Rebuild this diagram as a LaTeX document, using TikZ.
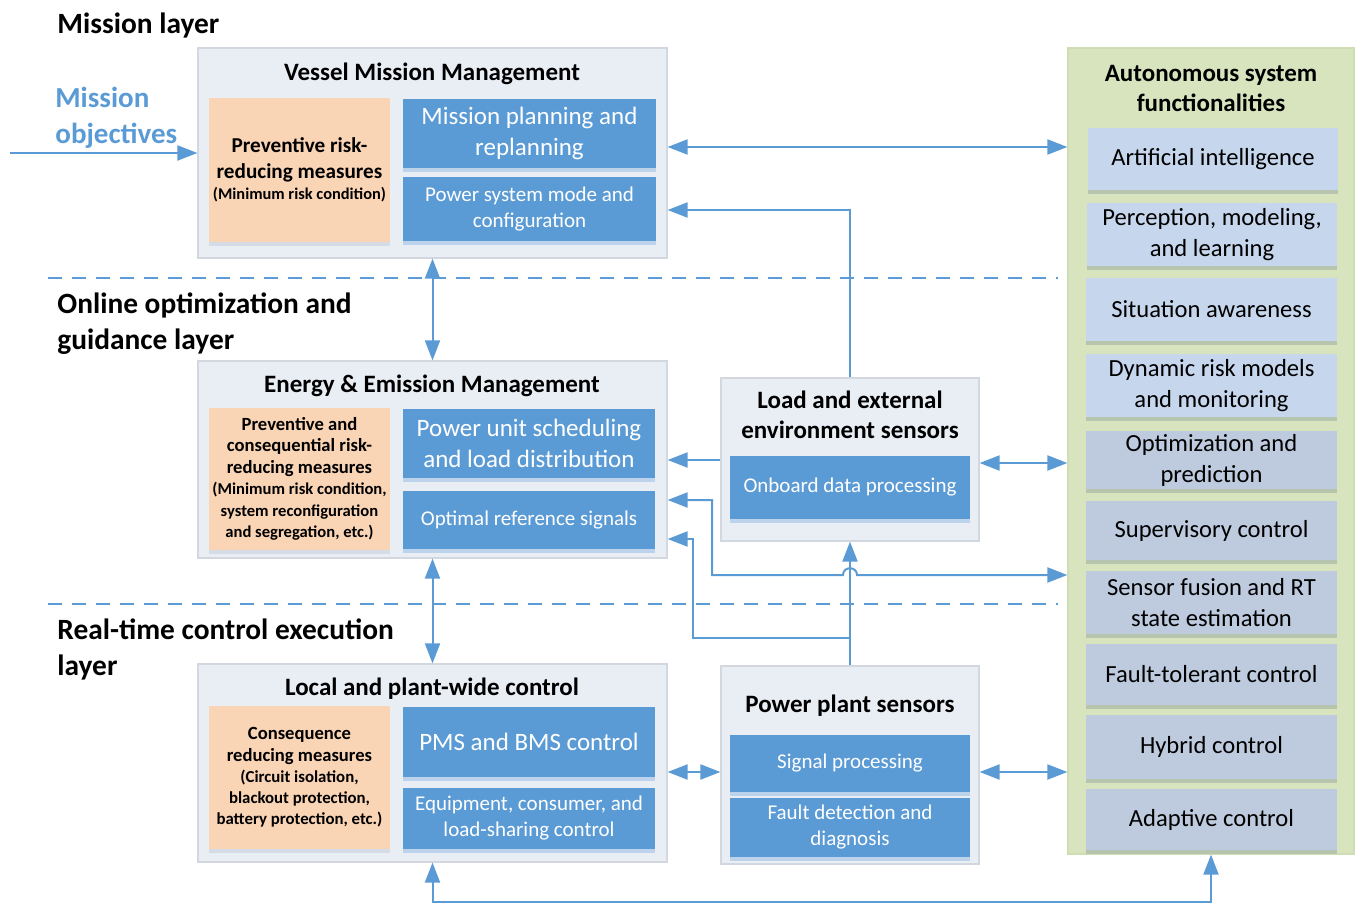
\documentclass[tikz,border=0pt]{standalone}
\usepackage{fontspec}
\setmainfont{Carlito}
\usetikzlibrary{arrows.meta,shadows}
\definecolor{lineblue}{HTML}{5B9BD5}
\definecolor{boxblue}{HTML}{5B9BD5}
\definecolor{boxshadow}{HTML}{BDD3EC}
\definecolor{outerfill}{HTML}{E9EDF4}
\definecolor{outerline}{HTML}{D3D8E0}
\definecolor{orangefill}{HTML}{F9D4B5}
\definecolor{orangeshadow}{HTML}{D6DCE6}
\definecolor{greenfill}{HTML}{D7E4BD}
\definecolor{greenline}{HTML}{CFDDB3}
\definecolor{funcA}{HTML}{C6D6EC}
\definecolor{funcB}{HTML}{BECBDF}
\definecolor{funcshadow}{HTML}{B7C5AE}
\newcommand\myfs[2]{\fontsize{#1}{#2}\selectfont}
% \bx{name}{style}{x1}{y1}{x2}{y2}{text}
\newcommand\bx[7]{\node[#2, minimum width={(#5-#3)*0.5pt}, minimum height={(#6-#4)*0.5pt}] (#1) at ({(#3+#5)/2},{(#4+#6)/2}) {#7};}
\tikzset{
  outer/.style={draw=outerline, fill=outerfill, line width=0.6pt, inner sep=0pt},
  orangebox/.style={fill=orangefill, inner sep=0pt, align=center,
    general shadow={fill=orangeshadow, shadow yshift=-2pt}},
  bluebox/.style={fill=boxblue, text=white, inner sep=0pt, align=center,
    general shadow={fill=boxshadow, shadow yshift=-2pt}},
  funcbox/.style={fill=#1, inner sep=0pt, align=center, font=\myfs{12.3}{15.5},
    general shadow={fill=funcshadow, shadow yshift=-2pt}},
  greenbox/.style={fill=greenfill, draw=greenline, line width=0.6pt, inner sep=0pt},
  ttl/.style={font=\bfseries\myfs{12.5}{15}, align=center, inner sep=0pt},
  layer/.style={font=\bfseries\myfs{14.7}{18}, align=left, anchor=west, inner sep=0pt},
  big/.style={font=\myfs{12.5}{15.5}},
  small/.style={font=\myfs{10.5}{13}},
  conn/.style={draw=lineblue, line width=1pt},
  arr/.style={conn, -{Triangle[length=10pt,width=7.5pt]}},
  dbl/.style={conn, {Triangle[length=10pt,width=7.5pt]}-{Triangle[length=10pt,width=7.5pt]}},
  sep/.style={draw=lineblue, line width=1pt, dash pattern=on 7pt off 5pt},
}
\begin{document}
\begin{tikzpicture}[x=0.5pt,y=-0.5pt]
\useasboundingbox (0,0) rectangle (1359,904);

% layer titles
\node[layer] (l1) at (57,25) {Mission layer};
\node[layer] (l2) at (57,324) {Online optimization and\\guidance layer};
\node[layer] (l3) at (57,649) {Real-time control execution\\layer};

% separators
\coordinate (s1a) at (48,278); \coordinate (s1b) at (1058,278);
\coordinate (s2a) at (48,604); \coordinate (s2b) at (1058,604);
\draw[sep] (s1a) -- (s1b);
\draw[sep] (s2a) -- (s2b);

% mission objectives
\node[font=\bfseries\myfs{14.5}{18}, text=lineblue, align=left, anchor=west, inner sep=0pt] (mo) at (55,118) {Mission\\objectives};

% Vessel mission management
\bx{vmm}{outer}{198}{48}{667}{258}{}
\node[ttl] (vmmt) at (432,74) {Vessel Mission Management};
\bx{vo}{orangebox, font=\bfseries\myfs{8.2}{13}}{209}{98}{390}{242}{\myfs{10.6}{13}Preventive risk-\\\myfs{10.6}{13}reducing measures\\[-2.5pt](Minimum risk condition)}
\bx{vb1}{bluebox, big}{403}{99}{656}{168}{Mission planning and\\replanning}
\bx{vb2}{bluebox, small}{403}{177}{656}{241}{Power system mode and\\configuration}

% Energy & emission management
\bx{eem}{outer}{198}{361}{667}{558}{}
\node[ttl] (eemt) at (432,386) {Energy \& Emission Management};
\bx{eo}{orangebox, font=\bfseries\myfs{8.3}{10.75}}{209}{408}{390}{550}{\myfs{9.3}{10.75}Preventive and\\\myfs{9.3}{10.75}consequential risk-\\\myfs{9.3}{10.75}reducing measures\\(Minimum risk condition,\\system reconfiguration\\and segregation, etc.)}
\bx{eb1}{bluebox, big}{403}{409}{655}{478}{Power unit scheduling\\and load distribution}
\bx{eb2}{bluebox, small}{403}{491}{655}{549}{Optimal reference signals}

% Local and plant-wide control
\bx{lpc}{outer}{198}{664}{667}{862}{}
\node[ttl] (lpct) at (432,689) {Local and plant-wide control};
\bx{lo}{orangebox, font=\bfseries\myfs{8.4}{10.6}}{209}{706}{390}{849}{\myfs{9.3}{10.6}Consequence\\\myfs{9.3}{10.6}reducing measures\\(Circuit isolation,\\blackout protection,\\battery protection, etc.)}
\bx{lb1}{bluebox, big}{403}{707}{655}{777}{PMS and BMS control}
\bx{lb2}{bluebox, small}{403}{788}{655}{849}{Equipment, consumer, and\\load-sharing control}

% Load and external environment sensors
\bx{les}{outer}{721}{378}{979}{541}{}
\node[ttl] (lest) at (850,415) {Load and external\\environment sensors};
\bx{lesb}{bluebox, small}{730}{456}{970}{519}{Onboard data processing}

% Power plant sensors
\bx{pps}{outer}{721}{666}{979}{864}{}
\node[ttl] (ppst) at (850,706) {Power plant sensors};
\bx{ppsb1}{bluebox, small}{730}{735}{970}{792}{Signal processing}
\bx{ppsb2}{bluebox, small}{730}{798}{970}{857}{Fault detection and\\diagnosis}

% Autonomous system functionalities
\bx{asf}{greenbox}{1068}{48}{1354}{854}{}
\node[ttl] (asft) at (1211,88) {Autonomous system\\functionalities};
\bx{f1}{funcbox=funcA}{1088}{128}{1338}{190}{Artificial intelligence}
\bx{f2}{funcbox=funcA}{1087}{203}{1337}{266}{Perception, modeling,\\and learning}
\bx{f3}{funcbox=funcA}{1086}{278}{1337}{341}{Situation awareness}
\bx{f4}{funcbox=funcA}{1086}{354}{1337}{417}{Dynamic risk models\\and monitoring}
\bx{f5}{funcbox=funcB}{1086}{431}{1337}{489}{Optimization and\\prediction}
\bx{f6}{funcbox=funcB}{1086}{501}{1337}{560}{Supervisory control}
\bx{f7}{funcbox=funcB}{1086}{571}{1337}{634}{Sensor fusion and RT\\state estimation}
\bx{f8}{funcbox=funcB}{1086}{644}{1337}{705}{Fault-tolerant control}
\bx{f9}{funcbox=funcB}{1086}{715}{1337}{779}{Hybrid control}
\bx{f10}{funcbox=funcB}{1086}{789}{1337}{850}{Adaptive control}

% connectors
\coordinate (mostart) at (10,153);
\draw[arr] (mostart) -- (vmm.west |- mostart);
\draw[dbl] (vmm.east |- 0,147) -- (asf.west |- 0,147);
\draw[arr] (les.north) -- (les.north |- 0,210) -- (vmm.east |- 0,210);
\draw[dbl] (vmm.south) -- (eem.north);
\draw[arr] (les.west |- 0,460) -- (eem.east |- 0,460);
\draw[dbl] (les.east |- 0,463) -- (asf.west |- 0,463);
\draw[dbl] (eem.east |- 0,500) -- (712,500) -- (712,575) -- (843,575)
   .. controls (843,566) and (857,566) .. (857,575) -- (asf.west |- 0,575);
\draw[arr] (pps.north) -- (les.south);
\draw[arr] (pps.north |- 0,638) -- (693,638) -- (693,539) -- (eem.east |- 0,539);
\draw[dbl] (eem.south) -- (lpc.north);
\draw[dbl] (lpc.east |- 0,772) -- (pps.west |- 0,772);
\draw[dbl] (pps.east |- 0,772) -- (asf.west |- 0,772);
\draw[dbl] (lpc.south) -- (lpc.south |- 0,902) -- (asf.south |- 0,902) -- (asf.south);
\end{tikzpicture}
\end{document}
